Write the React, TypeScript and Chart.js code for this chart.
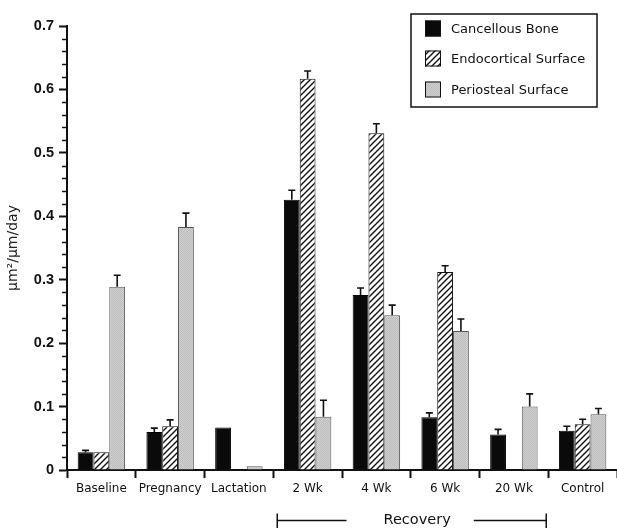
import React, { useEffect, useRef } from "react";
import { Chart, registerables } from "chart.js";

Chart.register(...registerables);

const categories = ["Baseline", "Pregnancy", "Lactation", "2 Wk", "4 Wk", "6 Wk", "20 Wk", "Control"];
const seriesNames = ["Cancellous Bone", "Endocortical Surface", "Periosteal Surface"];
const cancellous = [0.028, 0.06, 0.067, 0.426, 0.276, 0.083, 0.056, 0.062];
const cancellousErr = [0.003, 0.006, 0, 0.015, 0.011, 0.007, 0.008, 0.007];
const endocortical = [0.028, 0.069, null, 0.617, 0.531, 0.312, null, 0.072];
const endocorticalErr = [0, 0.01, 0, 0.012, 0.015, 0.01, 0, 0.008];
const periosteal = [0.289, 0.383, 0.006, 0.084, 0.244, 0.219, 0.1, 0.088];
const periostealErr = [0.018, 0.022, 0, 0.026, 0.016, 0.019, 0.02, 0.009];
const yTickValues = [0, 0.1, 0.2, 0.3, 0.4, 0.5, 0.6, 0.7];
const recoveryLabel = "Recovery";
const yTitle = "\u03bcm\u00b2/\u03bcm/day";

const errors = [cancellousErr, endocorticalErr, periostealErr];

function makeHatch(): CanvasPattern | string {
  const c = document.createElement("canvas");
  c.width = 6;
  c.height = 6;
  const g = c.getContext("2d");
  if (!g) return "#fff";
  g.fillStyle = "#fff";
  g.fillRect(0, 0, 6, 6);
  g.strokeStyle = "#111";
  g.lineWidth = 1.4;
  g.beginPath();
  g.moveTo(-1, 7);
  g.lineTo(7, -1);
  g.moveTo(-1, 1);
  g.lineTo(1, -1);
  g.moveTo(5, 7);
  g.lineTo(7, 5);
  g.stroke();
  const p = g.createPattern(c, "repeat");
  return p || "#fff";
}

function makeStipple(): CanvasPattern | string {
  const c = document.createElement("canvas");
  c.width = 2;
  c.height = 2;
  const g = c.getContext("2d");
  if (!g) return "#c8c8c8";
  g.fillStyle = "#cfcfcf";
  g.fillRect(0, 0, 2, 2);
  g.fillStyle = "#bdbdbd";
  g.fillRect(0, 0, 1, 1);
  g.fillRect(1, 1, 1, 1);
  const p = g.createPattern(c, "repeat");
  return p || "#c8c8c8";
}

const extrasPlugin = {
  id: "extras",
  afterDatasetsDraw(chart: any) {
    const ctx = chart.ctx;
    const y = chart.scales.y;
    chart.data.datasets.forEach((ds: any, i: number) => {
      const meta = chart.getDatasetMeta(i);
      meta.data.forEach((el: any, j: number) => {
        const v = ds.data[j];
        const e = errors[i][j];
        if (v == null || !e) return;
        const yTop = y.getPixelForValue(v);
        const yErr = y.getPixelForValue(v + e);
        ctx.save();
        ctx.strokeStyle = "#111";
        ctx.lineWidth = 1.6;
        ctx.beginPath();
        ctx.moveTo(el.x, yTop);
        ctx.lineTo(el.x, yErr);
        ctx.moveTo(el.x - 3.5, yErr);
        ctx.lineTo(el.x + 3.5, yErr);
        ctx.stroke();
        ctx.restore();
      });
    });
  },
  afterDraw(chart: any) {
    const ctx = chart.ctx;
    const y = chart.scales.y;
    const x = chart.scales.x;
    ctx.save();
    ctx.strokeStyle = "#111";
    ctx.lineWidth = 1.5;
    for (let k = 1; k < 35; k++) {
      if (k % 5 === 0) continue;
      const py = Math.round(y.getPixelForValue(k * 0.02)) + 0.5;
      ctx.beginPath();
      ctx.moveTo(y.right - 5, py);
      ctx.lineTo(y.right, py);
      ctx.stroke();
    }
    const lx = 411, ly = 14, lw = 186, lh = 93;
    ctx.lineWidth = 1.5;
    ctx.strokeStyle = "#111";
    ctx.strokeRect(lx, ly, lw, lh);
    const rows = [28.5, 58.5, 89.5];
    chart.data.datasets.forEach((ds: any, i: number) => {
      const cy = rows[i];
      ctx.fillStyle = ds.backgroundColor;
      ctx.fillRect(425, cy - 8, 16, 16);
      ctx.lineWidth = 1;
      ctx.strokeStyle = "#111";
      ctx.strokeRect(425.5, cy - 7.5, 15, 15);
      ctx.fillStyle = "#111";
      ctx.font = "13px 'DejaVu Sans'";
      ctx.textAlign = "left";
      ctx.textBaseline = "middle";
      ctx.fillText(ds.label, 451, cy + 1);
    });
    const x2 = x.getPixelForValue(3);
    const x20 = x.getPixelForValue(6);
    const w = (x20 - x2) / 3;
    const left = x2 - w / 2 + 4;
    const right = x20 + w / 2 - 2;
    const by = 520.5;
    ctx.font = "14.5px 'DejaVu Sans'";
    const tw = ctx.measureText(recoveryLabel).width;
    const tc = left + (right - left) * 0.52;
    const tl = tc - tw / 2;
    const tr = tc + tw / 2;
    ctx.strokeStyle = "#111";
    ctx.lineWidth = 1.5;
    ctx.beginPath();
    ctx.moveTo(left, by);
    ctx.lineTo(tl - 37, by);
    ctx.moveTo(tr + 23, by);
    ctx.lineTo(right, by);
    ctx.moveTo(left, by - 7);
    ctx.lineTo(left, by + 8);
    ctx.moveTo(right, by - 7);
    ctx.lineTo(right, by + 8);
    ctx.stroke();
    ctx.fillStyle = "#111";
    ctx.textAlign = "center";
    ctx.textBaseline = "middle";
    ctx.fillText(recoveryLabel, tc, by);
    ctx.restore();
  },
};

export default function App() {
  const ref = useRef<HTMLCanvasElement | null>(null);
  useEffect(() => {
    if (!ref.current) return;
    const chart = new Chart(ref.current, {
      type: "bar",
      data: {
        labels: categories,
        datasets: [
          {
            label: seriesNames[0],
            data: cancellous,
            backgroundColor: "#0a0a0a",
            borderColor: "#000",
            borderWidth: 1,
          },
          {
            label: seriesNames[1],
            data: endocortical as any,
            backgroundColor: makeHatch() as any,
            borderColor: "#111",
            borderWidth: 1,
          },
          {
            label: seriesNames[2],
            data: periosteal,
            backgroundColor: makeStipple() as any,
            borderColor: "#555",
            borderWidth: 1,
          },
        ],
      },
      options: {
        animation: false,
        responsive: false,
        devicePixelRatio: 1,
        layout: { padding: { top: 26, left: 0, right: 0, bottom: 0 } },
        datasets: { bar: { barPercentage: 1, categoryPercentage: 0.69 } },
        plugins: { legend: { display: false }, tooltip: { enabled: false } },
        scales: {
          x: {
            type: "category",
            offset: true,
            grid: {
              offset: true,
              drawOnChartArea: false,
              tickLength: 8,
              tickColor: "#111",
              tickWidth: 2,
            },
            border: { color: "#111", width: 2 },
            ticks: {
              font: { family: "'DejaVu Sans'", size: 12 },
              color: "#111",
              padding: 4,
              maxRotation: 0,
              autoSkip: false,
            },
            afterFit: (s: any) => {
              s.height = 58;
            },
          },
          y: {
            min: 0,
            max: 0.7,
            afterBuildTicks: (s: any) => {
              s.ticks = yTickValues.map((v) => ({ value: v }));
            },
            ticks: {
              callback: (v: any) => (Number(v) === 0 ? "0" : Number(v).toFixed(1)),
              font: { family: "'Liberation Sans'", size: 14.5, weight: "bold" },
              color: "#111",
              padding: 5,
            },
            grid: {
              drawOnChartArea: false,
              tickLength: 8,
              tickColor: "#111",
              tickWidth: 2,
            },
            border: { color: "#111", width: 2 },
            title: {
              display: true,
              text: yTitle,
              font: { family: "'DejaVu Sans'", size: 14 },
              color: "#222",
              padding: { top: 5, bottom: 0 },
            },
            afterFit: (s: any) => {
              s.width = 67;
            },
          },
        },
      },
      plugins: [extrasPlugin],
    } as any);
    return () => chart.destroy();
  }, []);
  return (
    <div style={{ position: "absolute", left: 0, top: 0, width: 617, height: 528, background: "#fff" }}>
      <canvas ref={ref} width={617} height={528} style={{ width: 617, height: 528 }} />
    </div>
  );
}
